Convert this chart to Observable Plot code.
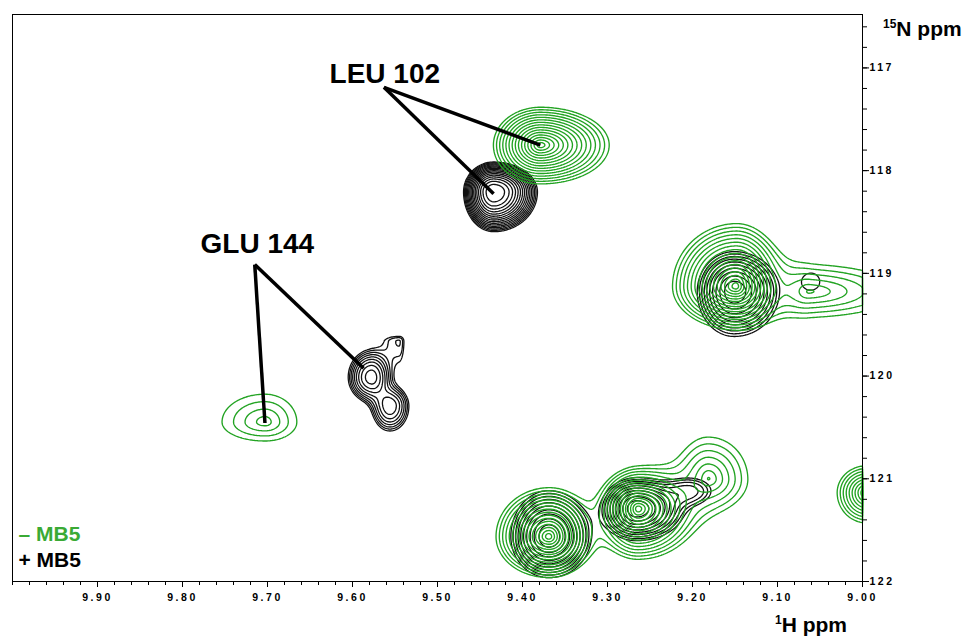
<!DOCTYPE html>
<html><head><meta charset="utf-8">
<script src="https://cdn.jsdelivr.net/npm/d3@7"></script>
<script src="https://cdn.jsdelivr.net/npm/@observablehq/plot@0.6"></script>
<style>
body{margin:0;background:#fff;}
#chart svg{display:block;}
</style>
</head><body><div id="chart"></div>
<script>
// ---- axes (ppm) ----
const xDomain = [10.0, 9.0];          // 1H ppm, reversed
const yDomain = [122, 116.48];        // 15N ppm, increasing downward
const xMajorTicks = [9.9, 9.8, 9.7, 9.6, 9.5, 9.4, 9.3, 9.2, 9.1, 9.0];
const xTickLabels = ["9.90","9.80","9.70","9.60","9.50","9.40","9.30","9.20","9.10","9.00"];
const yMajorTicks = [117, 118, 119, 120, 121, 122];
const yTickLabels = ["117","118","119","120","121","122"];

// ---- contour levels ----
const levelBase = 1, levelFactor = 1.25, levelCount = 22;

// ---- green spectrum (– MB5) peaks: centre, height, widths (ppm), shape ----
const greenX  = [9.379, 9.703, 9.149, 9.063, 9.369, 9.264, 9.181, 8.995];
const greenY  = [117.751, 120.448, 119.128, 119.177, 121.563, 121.291, 121.000, 121.136];
const greenH  = [28.4, 2.3, 44.4, 3.2, 35.5, 35.5, 3.8, 9.3];
const greenWl = [0.0165, 0.0606, 0.0195, 0.032, 0.0174, 0.0131, 0.026, 0.0153];
const greenWr = [0.0242, 0.045, 0.0139, 0.09, 0.0148, 0.0184, 0.034, 0.0153];
const greenWu = [0.110, 0.326, 0.159, 0.22, 0.133, 0.1115, 0.30, 0.117];
const greenWd = [0.113, 0.221, 0.1076, 0.21, 0.1115, 0.136, 0.22, 0.131];
const greenP  = [1, 1, 1, 1, 1, 1, 1, 1];

// ---- black spectrum (+ MB5) peaks ----
const blackX  = [9.434, 9.578, 9.556, 9.545, 9.151, 9.060, 9.369, 9.266, 9.202];
const blackY  = [118.207, 120.011, 120.292, 119.661, 119.177, 119.080, 121.563, 121.291, 121.117];
const blackH  = [35.5, 6.7, 4.5, 1.6, 9.3, 1.2, 9.3, 9.3, 1.95];
const blackWl = [0.0187, 0.0196, 0.0172, 0.0235, 0.0271, 0.022, 0.0279, 0.0257, 0.028];
const blackWr = [0.0273, 0.0170, 0.0182, 0.008, 0.033, 0.022, 0.0308, 0.0352, 0.028];
const blackWu = [0.154, 0.190, 0.158, 0.07, 0.2425, 0.18, 0.279, 0.188, 0.14];
const blackWd = [0.205, 0.175, 0.198, 0.27, 0.273, 0.18, 0.249, 0.194, 0.14];
const blackP  = [2, 2, 2, 2, 1.7, 2, 1.7, 1.7, 2];

// ---- assignments ----
const labelNames = ["LEU 102", "GLU 144"];
const labelX = [9.562, 9.712];
const labelY = [117.06, 118.717];
const leaderFromX = [9.563, 9.563, 9.715, 9.715];
const leaderFromY = [117.189, 117.189, 118.915, 118.915];
const leaderToX   = [9.379, 9.434, 9.703, 9.587];
const leaderToY   = [117.751, 118.226, 120.457, 119.924];

const legendNames = ["– MB5", "+ MB5"];
const GREEN = "#22a322", GREEN_TEXT = "#3aaa35", BLACK = "#111";

function field(X, Y, H, Wl, Wr, Wu, Wd, P) {
  return (x, y) => {
    let s = 0;
    for (let i = 0; i < X.length; i++) {
      const dx = x - X[i], dy = y - Y[i];
      const u = dx / (dx > 0 ? Wl[i] : Wr[i]);
      const v = dy / (dy < 0 ? Wu[i] : Wd[i]);
      const r2 = u * u + v * v;
      s += H[i] * Math.exp(-Math.pow(r2, P[i] / 2));
    }
    return s;
  };
}
const thresholds = d3.range(levelCount).map(k => levelBase * Math.pow(levelFactor, k));
const greenField = field(greenX, greenY, greenH, greenWl, greenWr, greenWu, greenWd, greenP);
const blackField = field(blackX, blackY, blackH, blackWl, blackWr, blackWu, blackWd, blackP);

const labels = labelNames.map((t, i) => ({t, x: labelX[i], y: labelY[i]}));
const leaders = leaderFromX.map((_, i) => ({x1: leaderFromX[i], y1: leaderFromY[i], x2: leaderToX[i], y2: leaderToY[i]}));
const xMinor = d3.range(0, 51).map(i => 9.0 + i * 0.02);
const yMinor = d3.range(0, 28).map(i => 116.6 + i * 0.2);

const raster = {x1: 10.0, x2: 9.0, y1: 116.48, y2: 122, thresholds, fill: "none", pixelSize: 1};

const FONT = "'Liberation Sans', Arial, Helvetica, sans-serif";
const plot = Plot.plot({
  width: 966, height: 641,
  marginLeft: 12, marginRight: 104, marginTop: 14, marginBottom: 60,
  x: {domain: xDomain, axis: null},
  y: {domain: yDomain, axis: null},
  style: {fontFamily: FONT, fontWeight: "bold", fontSize: "10.5px", color: "#000", background: "#fff"},
  marks: [
    Plot.contour({...raster, value: blackField, stroke: BLACK, strokeWidth: 1.3}),
    Plot.contour({...raster, value: greenField, stroke: GREEN, strokeWidth: 1.35}),
    Plot.frame({stroke: "#000", strokeWidth: 1}),
    Plot.axisX({anchor: "bottom", ticks: xMinor, tickSize: 4, tickFormat: () => "", label: null}),
    Plot.axisX({anchor: "bottom", ticks: xMajorTicks, tickSize: 6, tickPadding: 6,
      tickFormat: (d) => xTickLabels[xMajorTicks.findIndex(v => Math.abs(v - d) < 1e-9)], label: null}),
    Plot.axisY({anchor: "right", ticks: yMinor, tickSize: 4, tickFormat: () => "", label: null}),
    Plot.axisY({anchor: "right", ticks: yMajorTicks, tickSize: 6, tickPadding: 1, textAnchor: "start",
      tickFormat: (d) => yTickLabels[yMajorTicks.indexOf(d)], label: null}),
    Plot.link(leaders, {x1: "x1", y1: "y1", x2: "x2", y2: "y2", stroke: "#000", strokeWidth: 3.5}),
    Plot.text(labels, {x: "x", y: "y", text: "t", fontSize: 28, fontWeight: "bold", fill: "#000"}),
    Plot.text([legendNames[0]], {frameAnchor: "bottom-left", dx: 6, dy: -41, text: d => d, textAnchor: "start", fontSize: 21, fontWeight: "bold", fill: GREEN_TEXT}),
    Plot.text([legendNames[1]], {frameAnchor: "bottom-left", dx: 6, dy: -15, text: d => d, textAnchor: "start", fontSize: 21, fontWeight: "bold", fill: "#000"})
  ]
});
document.getElementById("chart").appendChild(plot);

// letter-spaced tick labels
d3.select(plot).selectAll('g[aria-label$="tick label"] text').style("letter-spacing", "2.5px");

// axis titles with superscripts
const svg = d3.select(plot);
function title(x, y, sup, main) {
  const t = svg.append("text").attr("x", x).attr("y", y).attr("text-anchor", "start")
    .attr("font-family", FONT).attr("font-weight", "bold").attr("font-size", 21).attr("fill", "#000");
  t.append("tspan").attr("font-size", 12).attr("dy", -8).text(sup);
  t.append("tspan").attr("dy", 8).text(main);
}
title(883, 36, "15", "N ppm");
title(775, 632, "1", "H ppm");
</script>
</body></html>
